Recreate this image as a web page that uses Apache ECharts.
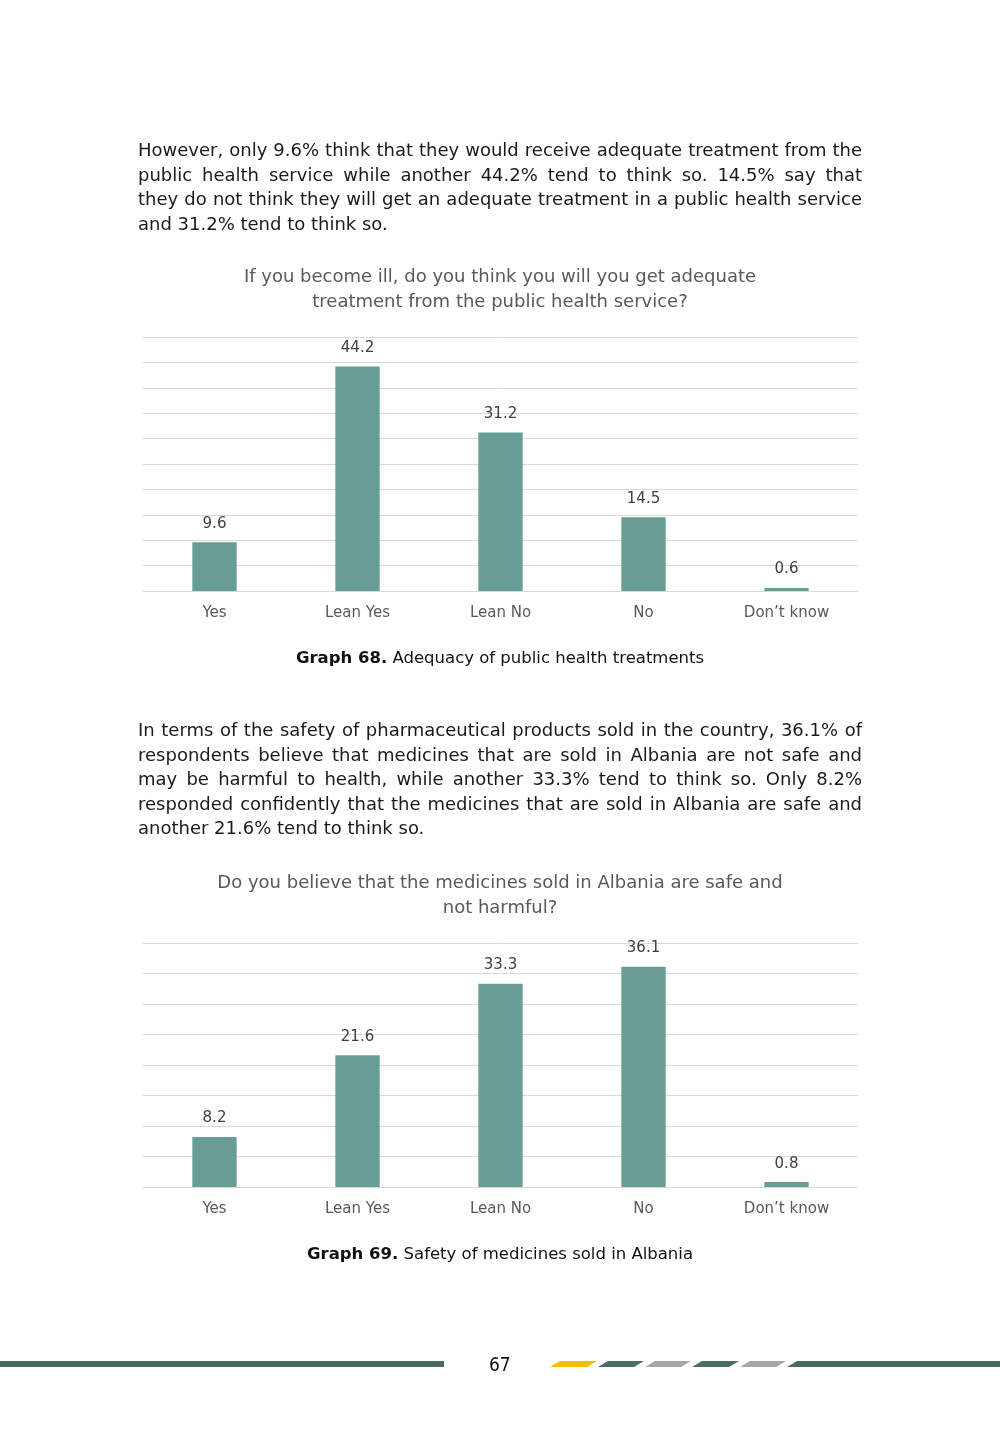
<!DOCTYPE html>
<html>
<head>
<meta charset="utf-8">
<script src="https://cdn.jsdelivr.net/npm/echarts@6/dist/echarts.min.js"></script>
<style>
  html, body { margin: 0; padding: 0; background: #ffffff; }
  #page { position: relative; width: 1000px; height: 1448px; overflow: hidden; }
  #chart { position: absolute; left: 0; top: 0; width: 1000px; height: 1448px; }
  .para { position: absolute; left: 138px; width: 724px; font-family: "DejaVu Sans", sans-serif; font-size: 18px; line-height: 24.6px; color: #1a1a1a; pointer-events: none; }
  .para div { text-align: justify; text-align-last: justify; white-space: nowrap; }
  .para div.last { text-align-last: left; }
</style>
</head>
<body>
<div id="page">
  <div id="chart"></div>
  <div class="para" style="top:138px;">
    <div>However, only 9.6% think that they would receive adequate treatment from the</div>
    <div>public health service while another 44.2% tend to think so. 14.5% say that</div>
    <div>they do not think they will get an adequate treatment in a public health service</div>
    <div class="last">and 31.2% tend to think so.</div>
  </div>
  <div class="para" style="top:718px;">
    <div>In terms of the safety of pharmaceutical products sold in the country, 36.1% of</div>
    <div>respondents believe that medicines that are sold in Albania are not safe and</div>
    <div>may be harmful to health, while another 33.3% tend to think so. Only 8.2%</div>
    <div>responded confidently that the medicines that are sold in Albania are safe and</div>
    <div class="last">another 21.6% tend to think so.</div>
  </div>
</div>
<script>
const categories = ["Yes", "Lean Yes", "Lean No", "No", "Don\u2019t know"];
const treatmentValues = [9.6, 44.2, 31.2, 14.5, 0.6];
const medicineValues = [8.2, 21.6, 33.3, 36.1, 0.8];
const title1 = "If you become ill, do you think you will you get adequate\ntreatment from the public health service?";
const title2 = "Do you believe that the medicines sold in Albania are safe and\nnot harmful?";
const caption1 = ["Graph 68.", " Adequacy of public health treatments"];
const caption2 = ["Graph 69.", " Safety of medicines sold in Albania"];
const pageNumber = "67";

const FONT = "DejaVu Sans";
const BAR = "#679d95";
const GRID = "#d9d9d9";

function makeX(gridIndex) {
  return {
    type: "category", gridIndex: gridIndex, data: categories,
    axisLine: { show: true, lineStyle: { color: GRID, width: 1 } },
    axisTick: { show: false },
    axisLabel: { color: "#595959", fontSize: 15, fontFamily: FONT, margin: 15 }
  };
}
function makeY(gridIndex, max) {
  return {
    type: "value", gridIndex: gridIndex, min: 0, max: max, interval: 5,
    axisLine: { show: false }, axisTick: { show: false }, axisLabel: { show: false },
    splitLine: { show: true, lineStyle: { color: GRID, width: 1 } }
  };
}
function makeSeries(idx, data) {
  return {
    type: "bar", xAxisIndex: idx, yAxisIndex: idx, data: data,
    barWidth: "31%", itemStyle: { color: BAR },
    label: { show: true, position: "top", distance: 11, color: "#404040", fontSize: 15, fontFamily: FONT },
    silent: true
  };
}
function caption(parts, y) {
  return {
    type: "text", left: "center", top: y,
    style: {
      text: "{b|" + parts[0] + "}{n|" + parts[1] + "}",
      rich: {
        b: { fontFamily: FONT, fontSize: 16.5, fontWeight: "bold", fill: "#111111" },
        n: { fontFamily: FONT, fontSize: 16.5, fill: "#111111" }
      }
    }
  };
}
function para(x1, x2, slant, color) {
  const y0 = 1361, y1 = 1367;
  return { type: "polygon", shape: { points: [[x1, y1], [x2 - slant, y1], [x2, y0], [x1 + slant, y0]] }, style: { fill: color } };
}

const chart = echarts.init(document.getElementById("chart"), null, { renderer: "canvas" });
chart.setOption({
  animation: false,
  backgroundColor: "#ffffff",
  title: [
    { text: title1, left: "center", top: 260, textStyle: { color: "#595959", fontSize: 18, fontWeight: "normal", fontFamily: FONT, lineHeight: 25 } },
    { text: title2, left: "center", top: 866, textStyle: { color: "#595959", fontSize: 18, fontWeight: "normal", fontFamily: FONT, lineHeight: 25 } }
  ],
  grid: [
    { left: 143, right: 142, top: 337, height: 254 },
    { left: 143, right: 142, top: 943, height: 244 }
  ],
  xAxis: [makeX(0), makeX(1)],
  yAxis: [makeY(0, 50), makeY(1, 40)],
  series: [makeSeries(0, treatmentValues), makeSeries(1, medicineValues)],
  graphic: [
    caption(caption1, 650),
    caption(caption2, 1246),
    { type: "rect", shape: { x: 0, y: 1361, width: 444, height: 6 }, style: { fill: "#4a6b64" } },
    { type: "text", left: 489, top: 1357, style: { text: pageNumber, fontFamily: "DejaVu Sans Condensed", fontSize: 19, fill: "#111111" } },
    para(550, 597, 10, "#f5c000"),
    para(598, 644, 10, "#4a6e66"),
    para(645, 691, 10, "#a6a6a6"),
    para(692, 739, 10, "#4a6e66"),
    para(740, 786, 10, "#a6a6a6"),
    para(787, 1010, 10, "#4a6b64")
  ]
});
</script>
</body>
</html>
